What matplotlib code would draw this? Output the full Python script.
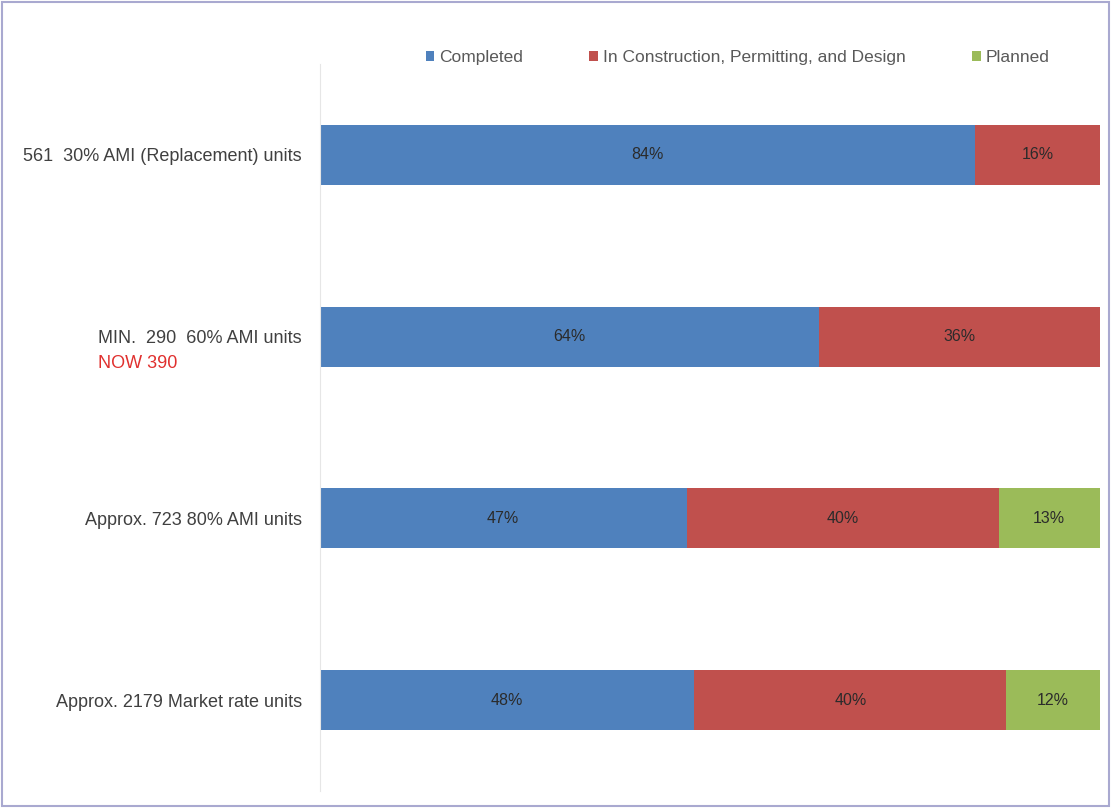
import matplotlib.pyplot as plt
from matplotlib.patches import Rectangle

# unit groups, top to bottom
groups = ['561  30% AMI (Replacement) units',
          'MIN.  290  60% AMI units',
          'Approx. 723 80% AMI units',
          'Approx. 2179 Market rate units']
completed = [84, 64, 47, 48]
in_construction = [16, 36, 40, 40]
planned = [0, 0, 13, 12]
series_names = ['Completed', 'In Construction, Permitting, and Design', 'Planned']
colors = ['#4F81BD', '#C0504D', '#9BBB59']

plt.rcParams['font.family'] = ['Liberation Sans', 'DejaVu Sans']

fig = plt.figure(figsize=(11.11, 8.08), dpi=100)
ax = fig.add_axes([0.288, 0.021, 0.702, 0.900])

ypos = list(range(len(groups)))
left = [0] * len(groups)
for vals, name, col in zip([completed, in_construction, planned], series_names, colors):
    bars = ax.barh(ypos, vals, left=left, height=0.33, color=col, label=name)
    labels = [f'{v}%' if v > 0 else '' for v in vals]
    ax.bar_label(bars, labels=labels, label_type='center', fontsize=11.5, color='#2b2b2b')
    left = [a + b for a, b in zip(left, vals)]

ax.set_xlim(0, 100)
ax.set_ylim(len(groups) - 0.5, -0.5)
ax.set_yticks(ypos)
ax.set_yticklabels(groups, fontsize=13, color='#404040')
ax.set_xticks([])
ax.tick_params(axis='y', length=0, pad=13)
for side in ['top', 'right', 'bottom']:
    ax.spines[side].set_visible(False)
ax.spines['left'].set_color('#e6e6e6')

# the 60% AMI target was later raised
fig.canvas.draw()
tl = ax.get_yticklabels()[1].get_window_extent()
x0 = ax.transData.inverted().transform((tl.x0, 0))[0]
ax.text(x0, 1.15, 'NOW 390', color='#E0302E', fontsize=13, ha='left', va='center', clip_on=False)

fig.legend(loc='center', bbox_to_anchor=(0.664, 0.929), ncol=3, frameon=False,
           fontsize=12.5, handlelength=0.5, handleheight=0.5, handletextpad=0.3,
           columnspacing=3.8, labelcolor='#595959')

# outer frame
fig.patches.append(Rectangle((0.002, 0.003), 0.996, 0.994, transform=fig.transFigure,
                             fill=False, edgecolor='#a9a9d0', linewidth=1.5))

fig.savefig('out.png', dpi=100)
